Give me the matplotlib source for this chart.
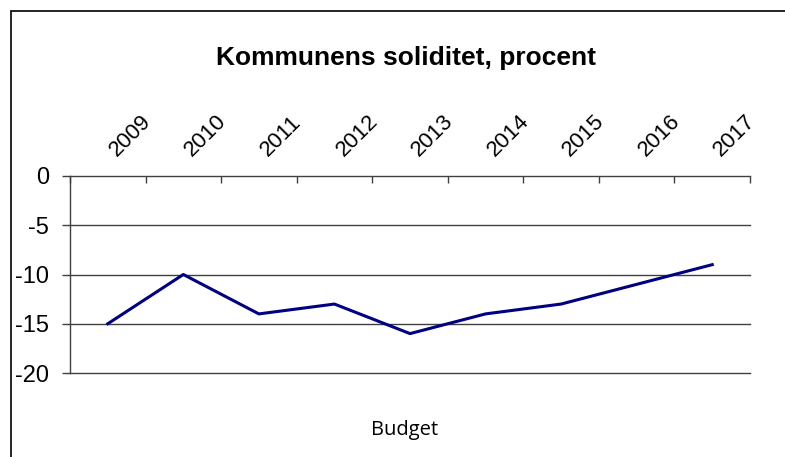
import matplotlib.pyplot as plt
from matplotlib.patches import Rectangle

# Data
years = ['2009', '2010', '2011', '2012', '2013', '2014', '2015', '2016', '2017']
soliditet = [-15, -10, -14, -13, -16, -14, -13, -11, -9]
y_ticks = [0, -5, -10, -15, -20]

plt.rcParams['font.family'] = ['Liberation Sans', 'DejaVu Sans']

fig = plt.figure(figsize=(7.85, 4.57), dpi=100)
ax = fig.add_axes([70 / 785, 1 - 373 / 457, 680 / 785, 197 / 457])

# ram runt diagrammet
fig.patches.append(Rectangle((11 / 785, -0.05), 1.2, (1 - 11 / 457) + 0.05,
                             transform=fig.transFigure, fill=False,
                             edgecolor='black', linewidth=1.2))

x = list(range(1, len(years) + 1))
ax.plot(x, soliditet, color='#000080', linewidth=2.2)

ax.set_xlim(0.5, len(years) + 0.5)
ax.set_ylim(-20, 0)

# rutnät
for v in y_ticks:
    ax.axhline(v, color='#404040', linewidth=1.0, zorder=0, clip_on=False)

for s in ['right', 'bottom', 'top']:
    ax.spines[s].set_visible(False)
ax.spines['left'].set_color('#404040')
ax.spines['left'].set_linewidth(1.0)

ax.set_yticks(y_ticks)
ax.set_yticklabels([str(v) for v in y_ticks], fontsize=17)
ax.tick_params(axis='y', length=6, width=1.0, color='#404040', pad=9)

# kategorigränser på övre axeln
ax.set_xticks([i + 0.5 for i in range(0, len(years) + 1)])
ax.set_xticklabels([])
ax.tick_params(axis='x', bottom=False, top=True, direction='in', length=5,
               width=1.0, color='#404040')

for xi, lab in zip(x, years):
    ax.annotate(lab, xy=(xi, 0), xytext=(6.5, 13.7), textcoords='offset points',
                rotation=45, rotation_mode='anchor', ha='left', va='baseline',
                fontsize=16)

fig.text(406 / 785, 1 - 58 / 457, 'Kommunens soliditet, procent',
         ha='center', va='center', fontsize=19, fontweight='bold')
fig.text(405 / 785, 1 - 430 / 457, 'Budget', ha='center', va='center',
         fontsize=14.5, family=['Open Sans', 'DejaVu Sans'])

fig.savefig('out.png', dpi=100)
